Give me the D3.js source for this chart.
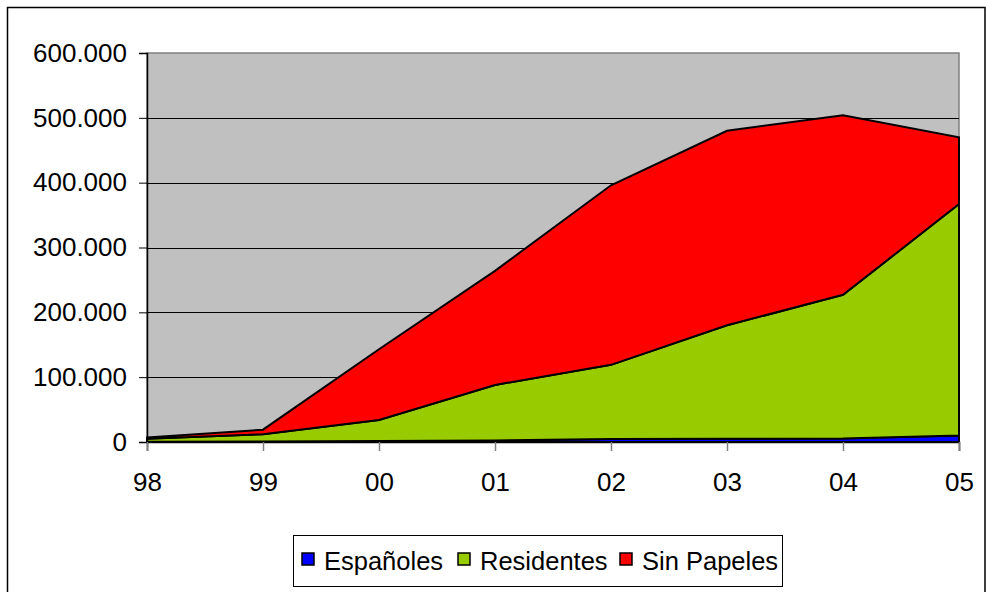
<!DOCTYPE html>
<html>
<head>
<meta charset="utf-8">
<script src="https://cdn.jsdelivr.net/npm/d3@7"></script>
<style>
  body { margin: 0; background: #fff; }
  svg { display: block; font-family: "Liberation Sans", Arial, sans-serif; }
</style>
</head>
<body>
<div class="chart"></div>
<script>
// data (stacked values)
var years = ["98", "99", "00", "01", "02", "03", "04", "05"];
var espanoles = [500, 800, 1500, 2500, 4500, 5000, 5500, 10000];
var residentes = [4500, 11200, 32500, 85500, 114500, 175000, 221500, 357000];
var sinPapeles = [2000, 7000, 109000, 176000, 277000, 300000, 277000, 103000];
var seriesNames = ["Españoles", "Residentes", "Sin Papeles"];
var seriesColors = ["#0000FF", "#99CC00", "#FF0000"];
var yTicks = [0, 100000, 200000, 300000, 400000, 500000, 600000];

var svgWidth = 986;
var svgHeight = 592;
var margin = { top: 53, right: 27, bottom: 150, left: 147 };
var width = 959 - margin.left;
var height = 442 - margin.top;

var svg = d3.select(".chart")
  .append("svg")
  .attr("width", svgWidth)
  .attr("height", svgHeight);

// outer frame
svg.append("rect")
  .attr("x", 7.5).attr("y", 7.5)
  .attr("width", 985 - 7.5).attr("height", 600)
  .attr("fill", "none")
  .attr("stroke", "#000")
  .attr("stroke-width", 1.5);

var chartGroup = svg.append("g")
  .attr("transform", `translate(${margin.left}, ${margin.top})`);

var x = d3.scalePoint().domain(years).range([0, width]);
var y = d3.scaleLinear().domain([0, 600000]).range([height, 0]);

// plot background
chartGroup.append("rect")
  .attr("width", width).attr("height", height)
  .attr("fill", "#C0C0C0")
  .attr("stroke", "#808080")
  .attr("stroke-width", 1.5);

// gridlines
chartGroup.selectAll(".grid")
  .data(yTicks.filter(d => d > 0 && d < 600000))
  .enter()
  .append("line")
  .attr("x1", 0).attr("x2", width)
  .attr("y1", d => Math.round(y(d)) + 0.5)
  .attr("y2", d => Math.round(y(d)) + 0.5)
  .attr("stroke", "#000")
  .attr("stroke-width", 1);

// stack the series
var rows = years.map(function(yr, i) {
  return { year: yr, "Españoles": espanoles[i], "Residentes": residentes[i], "Sin Papeles": sinPapeles[i] };
});
var stacked = d3.stack().keys(seriesNames)(rows);

var area = d3.area()
  .x(d => x(d.data.year))
  .y0(d => y(d[0]))
  .y1(d => y(d[1]));

chartGroup.selectAll(".area")
  .data(stacked)
  .enter()
  .append("path")
  .attr("class", "area")
  .attr("d", area)
  .attr("fill", (d, i) => seriesColors[i])
  .attr("stroke", "#000")
  .attr("stroke-width", 2)
  .attr("stroke-linejoin", "miter");

// axes
var leftAxis = d3.axisLeft(y)
  .tickValues(yTicks)
  .tickSize(8)
  .tickPadding(12)
  .tickFormat(d => d3.format(",")(d).replace(/,/g, "."));
var bottomAxis = d3.axisBottom(x).tickSize(9).tickPadding(22);

var yAxis = chartGroup.append("g").call(leftAxis);
var xAxis = chartGroup.append("g")
  .attr("transform", `translate(0, ${height})`)
  .call(bottomAxis);

yAxis.select(".domain").attr("stroke", "#000").attr("stroke-width", 1.5);
xAxis.select(".domain").attr("stroke", "#000").attr("stroke-width", 1.5);
yAxis.selectAll(".tick line").attr("stroke", "#000");
xAxis.selectAll(".tick line").attr("stroke", "#808080").attr("stroke-width", 1.5);
[yAxis, xAxis].forEach(function(a) {
  a.selectAll("text")
    .attr("font-size", "26px")
    .attr("font-family", "'Liberation Sans', Arial, sans-serif")
    .attr("fill", "#000");
});

// legend
var legend = svg.append("g");
legend.append("rect")
  .attr("x", 293.5).attr("y", 535.5)
  .attr("width", 489).attr("height", 51)
  .attr("fill", "#fff")
  .attr("stroke", "#000")
  .attr("stroke-width", 1);

var legendX = [302, 458, 620];
var legendItems = legend.selectAll(".item")
  .data(seriesNames)
  .enter()
  .append("g")
  .attr("transform", (d, i) => `translate(${legendX[i]}, 0)`);

legendItems.append("rect")
  .attr("x", 0).attr("y", 553)
  .attr("width", 12).attr("height", 12)
  .attr("fill", (d, i) => seriesColors[i])
  .attr("stroke", "#000")
  .attr("stroke-width", 1.5);

legendItems.append("text")
  .attr("x", 22).attr("y", 570)
  .attr("font-size", "25.5px")
  .text(d => d);
</script>
</body>
</html>
